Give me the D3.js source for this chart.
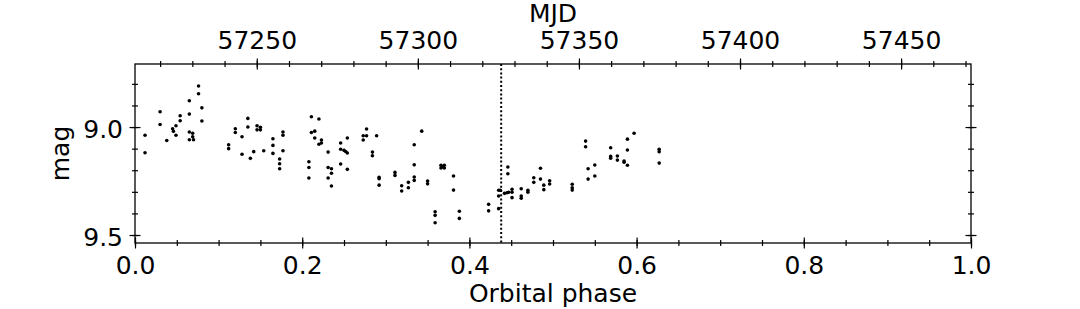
<!DOCTYPE html>
<html>
<head>
<meta charset="utf-8">
<script src="https://cdn.jsdelivr.net/npm/d3@7"></script>
<style>
  body { margin: 0; background: #fff; }
  text { font-family: "DejaVu Sans", sans-serif; font-size: 25px; fill: #000; }
</style>
</head>
<body>
<div id="chart"></div>
<script>
// light curve folded on the orbital period
var phase = [
  0.012, 0.012, 0.030, 0.030, 0.038, 0.045, 0.046, 0.049, 0.049, 0.054,
  0.054, 0.065, 0.065, 0.065, 0.065, 0.069, 0.069, 0.070, 0.076, 0.076,
  0.080, 0.080, 0.112, 0.112, 0.120, 0.120, 0.128, 0.128, 0.135, 0.135,
  0.138, 0.142, 0.146, 0.146, 0.150, 0.150, 0.154, 0.165, 0.165, 0.165,
  0.173, 0.173, 0.173, 0.177, 0.177, 0.177, 0.208, 0.208, 0.208, 0.211,
  0.211, 0.215, 0.215, 0.220, 0.220, 0.223, 0.223, 0.231, 0.231, 0.231,
  0.235, 0.235, 0.235, 0.246, 0.246, 0.246, 0.250, 0.252, 0.254, 0.254,
  0.254, 0.273, 0.273, 0.277, 0.277, 0.289, 0.284, 0.284, 0.292, 0.292,
  0.292, 0.311, 0.311, 0.319, 0.319, 0.327, 0.327, 0.334, 0.334, 0.334,
  0.334, 0.343, 0.350, 0.350, 0.359, 0.359, 0.359, 0.366, 0.366, 0.368,
  0.370, 0.370, 0.381, 0.381, 0.388, 0.388, 0.423, 0.423, 0.435, 0.437,
  0.435, 0.435, 0.442, 0.445, 0.447, 0.451, 0.451, 0.451, 0.446, 0.446,
  0.462, 0.462, 0.462, 0.470, 0.470, 0.477, 0.477, 0.485, 0.485, 0.489,
  0.489, 0.496, 0.496, 0.523, 0.523, 0.523, 0.539, 0.539, 0.542, 0.542,
  0.550, 0.550, 0.569, 0.569, 0.569, 0.577, 0.577, 0.585, 0.585, 0.589,
  0.589, 0.589, 0.597, 0.627, 0.627, 0.627
];
var mag = [
  9.038, 9.119, 8.929, 8.988, 9.062, 9.008, 9.020, 8.994, 9.038, 8.948,
  8.971, 8.878, 8.940, 9.023, 9.059, 9.029, 9.045, 9.059, 8.810, 8.846,
  8.911, 8.972, 9.082, 9.100, 9.008, 9.025, 9.045, 9.126, 8.960, 9.000,
  9.145, 9.114, 8.994, 9.013, 9.001, 9.013, 9.110, 9.054, 9.085, 9.122,
  9.148, 9.170, 9.193, 9.023, 9.038, 9.110, 9.161, 9.187, 9.236, 8.952,
  9.025, 9.019, 9.051, 8.963, 9.080, 9.060, 9.074, 9.116, 9.187, 9.236,
  9.193, 9.214, 9.273, 9.074, 9.103, 9.171, 9.108, 9.113, 9.051, 9.120,
  9.196, 9.040, 9.060, 9.009, 9.040, 9.040, 9.116, 9.133, 9.233, 9.239,
  9.269, 9.210, 9.224, 9.272, 9.296, 9.256, 9.281, 9.082, 9.175, 9.231,
  9.247, 9.019, 9.250, 9.263, 9.392, 9.409, 9.443, 9.177, 9.190, 9.184,
  9.177, 9.190, 9.227, 9.292, 9.390, 9.423, 9.358, 9.388, 9.293, 9.293,
  9.319, 9.378, 9.307, 9.304, 9.302, 9.288, 9.302, 9.327, 9.185, 9.216,
  9.286, 9.319, 9.330, 9.293, 9.302, 9.235, 9.256, 9.191, 9.241, 9.269,
  9.290, 9.249, 9.264, 9.265, 9.281, 9.292, 9.065, 9.091, 9.193, 9.241,
  9.176, 9.227, 9.096, 9.136, 9.144, 9.134, 9.153, 9.157, 9.163, 9.056,
  9.106, 9.177, 9.029, 9.103, 9.114, 9.167
];

// vertical marker (dotted line)
var markPhase = 0.438;

// axis ranges and ticks
var phaseDomain = [0, 1];
var mjdDomain = [57212.2, 57471.7];
var magDomain = [8.708, 9.537];
var phaseTicks = [0.0, 0.2, 0.4, 0.6, 0.8, 1.0];
var phaseMinor = d3.range(0, 1.0001, 0.05);
var mjdTicks = [57250, 57300, 57350, 57400, 57450];
var mjdMinor = d3.range(57220, 57471, 10);
var magTicks = [9.0, 9.5];
var magMinor = [8.8, 8.9, 9.0, 9.1, 9.2, 9.3, 9.4, 9.5];

// svg size
var svgWidth = 1080;
var svgHeight = 309;
var margin = { top: 64, right: 109, bottom: 66, left: 135 };
var width = svgWidth - margin.left - margin.right;
var height = svgHeight - margin.top - margin.bottom;

var svg = d3.select('#chart').append('svg')
  .attr('width', svgWidth)
  .attr('height', svgHeight);

var g = svg.append('g')
  .attr('transform', `translate(${margin.left}, ${margin.top})`);

var x = d3.scaleLinear().domain(phaseDomain).range([0, width]);
var xTop = d3.scaleLinear().domain(mjdDomain).range([0, width]);
var y = d3.scaleLinear().domain(magDomain).range([0, height]);

var majorLen = 5.5;
var minorLen = 3;

// draw an axis, then let its ticks cross the frame line
// (attr is the tick line end that sits inside the plot, sign its direction)
function drawAxis(axis, ticks, len, fmt, pad, transform, attr, sign) {
  axis.tickValues(ticks).tickSize(len).tickPadding(pad).tickSizeOuter(0);
  axis.tickFormat(fmt ? fmt : () => '');
  var ax = g.append('g').attr('transform', transform).call(axis);
  ax.select('.domain').remove();
  ax.selectAll('.tick line')
    .attr('stroke', '#000')
    .attr('stroke-width', 1.2)
    .attr(attr, sign * len);
  ax.selectAll('.tick text')
    .attr('font-family', '"DejaVu Sans", sans-serif')
    .attr('font-size', 25)
    .attr('fill', '#000');
  return ax;
}

// bottom axis (orbital phase)
drawAxis(d3.axisBottom(x), phaseMinor, minorLen, null, 8, `translate(0, ${height})`, 'y1', -1);
drawAxis(d3.axisBottom(x), phaseTicks, majorLen, d3.format('.1f'), 8, `translate(0, ${height})`, 'y1', -1);

// top axis (MJD)
drawAxis(d3.axisTop(xTop), mjdMinor, minorLen, null, 10, 'translate(0,0)', 'y1', 1);
drawAxis(d3.axisTop(xTop), mjdTicks, majorLen, d3.format('d'), 10, 'translate(0,0)', 'y1', 1);

// left axis
drawAxis(d3.axisLeft(y), magMinor, minorLen, null, 6.5, 'translate(0,0)', 'x1', 1);
drawAxis(d3.axisLeft(y), magTicks, majorLen, d3.format('.1f'), 6.5, 'translate(0,0)', 'x1', 1)
  .selectAll('.tick text').attr('dy', '0.43em');

// right axis, no labels
drawAxis(d3.axisRight(y), magMinor, minorLen, null, 6, `translate(${width},0)`, 'x1', -1);
drawAxis(d3.axisRight(y), magTicks, majorLen, null, 6, `translate(${width},0)`, 'x1', -1);

// frame
g.append('rect')
  .attr('width', width)
  .attr('height', height)
  .attr('fill', 'none')
  .attr('stroke', '#000')
  .attr('stroke-width', 1.3);

// dotted marker line
g.append('line')
  .attr('x1', x(markPhase))
  .attr('x2', x(markPhase))
  .attr('y1', 0)
  .attr('y2', height)
  .attr('stroke', '#000')
  .attr('stroke-width', 2)
  .attr('stroke-dasharray', '2,2.2');

// data points
g.selectAll('.pt')
  .data(phase)
  .enter()
  .append('circle')
  .classed('pt', true)
  .attr('cx', d => x(d))
  .attr('cy', (d, i) => y(mag[i]))
  .attr('r', 1.8)
  .attr('fill', '#000');

// axis titles
svg.append('text')
  .attr('x', margin.left + width / 2)
  .attr('y', 302)
  .attr('text-anchor', 'middle')
  .text('Orbital phase');

svg.append('text')
  .attr('x', margin.left + width / 2)
  .attr('y', 22)
  .attr('text-anchor', 'middle')
  .text('MJD');

svg.append('text')
  .attr('transform', `translate(69, ${margin.top + height / 2}) rotate(-90)`)
  .attr('text-anchor', 'middle')
  .text('mag');
</script>
</body>
</html>
